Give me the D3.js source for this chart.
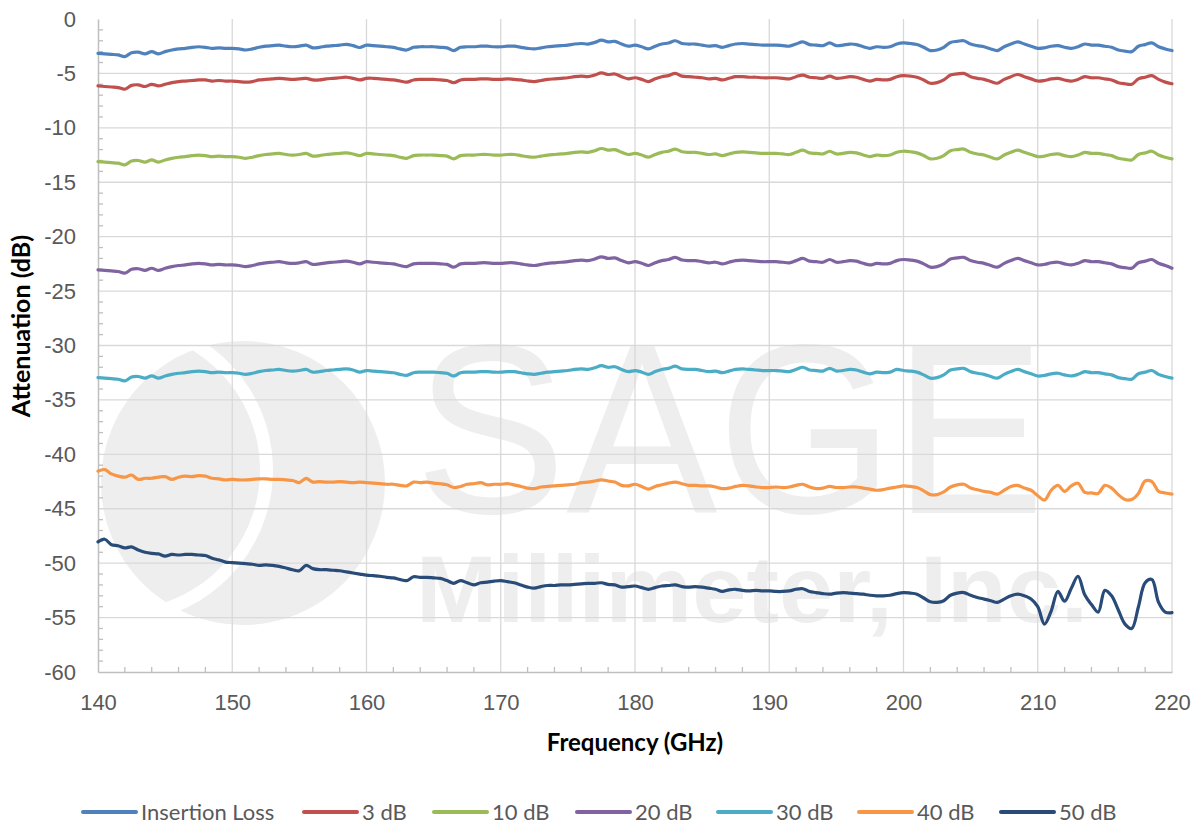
<!DOCTYPE html>
<html>
<head>
<meta charset="utf-8">
<script src="https://cdn.jsdelivr.net/npm/d3@7"></script>
<style>
  body { margin: 0; background: #fff; }
  svg { display: block; font-family: Lato, "Open Sans", sans-serif; }
</style>
</head>
<body>
<div id="chart"></div>
<script>
// frequency grid (GHz), 0.5 GHz step
const freq = d3.range(0, 161).map(i => 140 + i * 0.5);

const insertionLoss = [
  -3.15,-3.2,-3.25,-3.3,-3.45,-3.1,-3.05,-3.2,-3.0,-3.2,
  -3.0,-2.85,-2.75,-2.7,-2.6,-2.55,-2.6,-2.7,-2.65,-2.7,
  -2.7,-2.75,-2.85,-2.75,-2.6,-2.5,-2.45,-2.4,-2.5,-2.55,
  -2.5,-2.4,-2.65,-2.6,-2.5,-2.45,-2.4,-2.33,-2.45,-2.62,
  -2.4,-2.45,-2.5,-2.55,-2.6,-2.75,-2.85,-2.6,-2.55,-2.55,
  -2.55,-2.6,-2.65,-2.9,-2.6,-2.55,-2.55,-2.5,-2.5,-2.55,
  -2.55,-2.5,-2.5,-2.6,-2.7,-2.75,-2.65,-2.55,-2.5,-2.45,
  -2.4,-2.3,-2.25,-2.3,-2.15,-1.95,-2.1,-2.05,-2.3,-2.5,
  -2.4,-2.55,-2.75,-2.5,-2.3,-2.2,-2.0,-2.25,-2.3,-2.3,
  -2.4,-2.5,-2.45,-2.6,-2.45,-2.3,-2.25,-2.3,-2.35,-2.4,
  -2.4,-2.4,-2.45,-2.5,-2.3,-2.1,-2.35,-2.4,-2.45,-2.2,
  -2.45,-2.4,-2.3,-2.35,-2.55,-2.7,-2.55,-2.6,-2.55,-2.3,
  -2.2,-2.25,-2.35,-2.6,-2.9,-2.85,-2.6,-2.15,-2.05,-2.0,
  -2.3,-2.45,-2.55,-2.75,-2.9,-2.55,-2.3,-2.1,-2.3,-2.5,
  -2.7,-2.65,-2.5,-2.45,-2.6,-2.7,-2.55,-2.3,-2.4,-2.4,
  -2.5,-2.6,-2.85,-2.95,-3.0,-2.5,-2.35,-2.2,-2.55,-2.75,
  -2.9
];

const att3 = [
  -6.15,-6.2,-6.25,-6.3,-6.45,-6.1,-6.05,-6.2,-6.0,-6.15,
  -6.0,-5.85,-5.75,-5.7,-5.65,-5.6,-5.6,-5.7,-5.65,-5.7,
  -5.7,-5.75,-5.8,-5.75,-5.6,-5.55,-5.5,-5.45,-5.5,-5.55,
  -5.5,-5.45,-5.6,-5.6,-5.5,-5.45,-5.4,-5.35,-5.45,-5.6,
  -5.45,-5.45,-5.5,-5.55,-5.6,-5.7,-5.8,-5.6,-5.55,-5.55,
  -5.55,-5.6,-5.65,-5.85,-5.6,-5.55,-5.55,-5.5,-5.5,-5.55,
  -5.55,-5.5,-5.55,-5.6,-5.7,-5.75,-5.65,-5.55,-5.5,-5.45,
  -5.4,-5.3,-5.25,-5.3,-5.15,-4.95,-5.1,-5.05,-5.3,-5.5,
  -5.4,-5.55,-5.75,-5.5,-5.3,-5.2,-5.0,-5.25,-5.3,-5.35,
  -5.4,-5.5,-5.45,-5.6,-5.45,-5.3,-5.3,-5.35,-5.35,-5.4,
  -5.4,-5.4,-5.45,-5.5,-5.3,-5.15,-5.35,-5.4,-5.45,-5.25,
  -5.45,-5.4,-5.3,-5.35,-5.55,-5.7,-5.55,-5.6,-5.55,-5.3,
  -5.2,-5.25,-5.35,-5.6,-5.9,-5.85,-5.6,-5.15,-5.05,-5.0,
  -5.3,-5.45,-5.55,-5.75,-5.9,-5.55,-5.3,-5.1,-5.3,-5.5,
  -5.7,-5.65,-5.5,-5.45,-5.6,-5.7,-5.55,-5.3,-5.4,-5.4,
  -5.5,-5.6,-5.85,-5.95,-6.0,-5.5,-5.35,-5.2,-5.55,-5.8,
  -5.95
];

const att10 = [
  -13.1,-13.15,-13.2,-13.25,-13.4,-13.05,-13.0,-13.15,-12.95,-13.15,
  -12.95,-12.8,-12.7,-12.65,-12.55,-12.5,-12.55,-12.65,-12.6,-12.65,
  -12.65,-12.7,-12.8,-12.7,-12.55,-12.45,-12.4,-12.35,-12.45,-12.5,
  -12.45,-12.35,-12.6,-12.55,-12.45,-12.4,-12.35,-12.3,-12.4,-12.55,
  -12.35,-12.4,-12.45,-12.5,-12.55,-12.7,-12.8,-12.55,-12.5,-12.5,
  -12.5,-12.55,-12.6,-12.85,-12.55,-12.5,-12.5,-12.45,-12.45,-12.5,
  -12.5,-12.45,-12.45,-12.55,-12.65,-12.7,-12.6,-12.5,-12.45,-12.4,
  -12.35,-12.25,-12.2,-12.25,-12.1,-11.9,-12.05,-12.0,-12.25,-12.45,
  -12.35,-12.5,-12.7,-12.45,-12.25,-12.15,-11.95,-12.2,-12.25,-12.25,
  -12.35,-12.45,-12.4,-12.55,-12.4,-12.25,-12.2,-12.25,-12.3,-12.35,
  -12.35,-12.35,-12.4,-12.45,-12.25,-12.05,-12.3,-12.35,-12.4,-12.15,
  -12.4,-12.35,-12.25,-12.3,-12.5,-12.65,-12.5,-12.55,-12.5,-12.25,
  -12.15,-12.2,-12.3,-12.55,-12.85,-12.8,-12.55,-12.1,-12.0,-11.95,
  -12.25,-12.4,-12.5,-12.7,-12.85,-12.5,-12.25,-12.05,-12.25,-12.45,
  -12.65,-12.6,-12.45,-12.4,-12.55,-12.65,-12.5,-12.25,-12.35,-12.35,
  -12.45,-12.55,-12.8,-12.9,-12.95,-12.45,-12.3,-12.15,-12.5,-12.7,
  -12.85
];

const att20 = [
  -23.05,-23.1,-23.15,-23.2,-23.35,-23.0,-22.95,-23.1,-22.9,-23.1,
  -22.9,-22.75,-22.65,-22.6,-22.5,-22.45,-22.5,-22.6,-22.55,-22.6,
  -22.6,-22.65,-22.75,-22.65,-22.5,-22.4,-22.35,-22.3,-22.4,-22.45,
  -22.4,-22.3,-22.55,-22.5,-22.4,-22.35,-22.3,-22.25,-22.35,-22.5,
  -22.3,-22.35,-22.4,-22.45,-22.5,-22.65,-22.75,-22.5,-22.45,-22.45,
  -22.45,-22.5,-22.55,-22.8,-22.5,-22.45,-22.45,-22.4,-22.4,-22.45,
  -22.45,-22.4,-22.4,-22.5,-22.6,-22.65,-22.55,-22.45,-22.4,-22.35,
  -22.3,-22.2,-22.15,-22.2,-22.05,-21.85,-22.0,-21.95,-22.2,-22.4,
  -22.3,-22.45,-22.65,-22.4,-22.2,-22.1,-21.9,-22.15,-22.2,-22.2,
  -22.3,-22.4,-22.35,-22.5,-22.35,-22.2,-22.15,-22.2,-22.25,-22.3,
  -22.3,-22.3,-22.35,-22.4,-22.2,-22.0,-22.25,-22.3,-22.35,-22.1,
  -22.35,-22.3,-22.2,-22.25,-22.45,-22.6,-22.45,-22.5,-22.45,-22.2,
  -22.1,-22.15,-22.25,-22.5,-22.8,-22.75,-22.5,-22.05,-21.95,-21.9,
  -22.2,-22.35,-22.45,-22.65,-22.8,-22.45,-22.2,-22.0,-22.2,-22.4,
  -22.6,-22.55,-22.4,-22.35,-22.5,-22.6,-22.45,-22.2,-22.3,-22.3,
  -22.4,-22.5,-22.75,-22.85,-22.9,-22.4,-22.25,-22.1,-22.45,-22.65,
  -22.9
];

const att30 = [
  -32.95,-33.0,-33.05,-33.1,-33.25,-32.9,-32.85,-33.0,-32.8,-33.0,
  -32.8,-32.65,-32.55,-32.5,-32.4,-32.35,-32.4,-32.5,-32.45,-32.5,
  -32.5,-32.55,-32.65,-32.55,-32.4,-32.3,-32.25,-32.2,-32.3,-32.35,
  -32.3,-32.2,-32.45,-32.4,-32.3,-32.25,-32.2,-32.15,-32.25,-32.45,
  -32.3,-32.35,-32.4,-32.45,-32.5,-32.65,-32.75,-32.5,-32.45,-32.45,
  -32.45,-32.5,-32.55,-32.8,-32.5,-32.45,-32.45,-32.4,-32.4,-32.45,
  -32.45,-32.4,-32.4,-32.5,-32.6,-32.65,-32.55,-32.45,-32.4,-32.35,
  -32.3,-32.2,-32.15,-32.2,-32.05,-31.85,-32.0,-31.95,-32.2,-32.4,
  -32.3,-32.45,-32.65,-32.4,-32.2,-32.1,-31.9,-32.15,-32.2,-32.2,
  -32.3,-32.4,-32.35,-32.5,-32.35,-32.2,-32.15,-32.2,-32.25,-32.3,
  -32.3,-32.3,-32.35,-32.4,-32.2,-32.0,-32.25,-32.3,-32.35,-32.1,
  -32.35,-32.3,-32.2,-32.25,-32.45,-32.6,-32.45,-32.5,-32.45,-32.2,
  -32.3,-32.35,-32.45,-32.7,-33.0,-32.95,-32.7,-32.25,-32.15,-32.1,
  -32.4,-32.55,-32.65,-32.85,-33.0,-32.65,-32.4,-32.2,-32.4,-32.6,
  -32.8,-32.75,-32.6,-32.55,-32.7,-32.8,-32.65,-32.4,-32.5,-32.5,
  -32.6,-32.7,-32.95,-33.05,-33.1,-32.6,-32.45,-32.3,-32.65,-32.85,
  -33.0
];

const att40 = [
  -41.55,-41.4,-41.8,-42.0,-42.1,-41.9,-42.3,-42.2,-42.2,-42.1,
  -42.05,-42.3,-42.1,-42.0,-42.05,-41.95,-42.0,-42.2,-42.25,-42.35,
  -42.3,-42.35,-42.35,-42.3,-42.25,-42.25,-42.3,-42.3,-42.35,-42.4,
  -42.6,-42.2,-42.55,-42.5,-42.55,-42.55,-42.5,-42.55,-42.6,-42.55,
  -42.6,-42.65,-42.7,-42.75,-42.75,-42.85,-42.9,-42.55,-42.6,-42.55,
  -42.65,-42.7,-42.8,-43.05,-42.95,-42.75,-42.7,-42.6,-42.8,-42.75,
  -42.75,-42.7,-42.8,-42.95,-43.1,-43.15,-43.0,-42.95,-42.9,-42.85,
  -42.8,-42.75,-42.6,-42.55,-42.45,-42.35,-42.45,-42.55,-42.85,-42.9,
  -42.75,-42.95,-43.2,-42.95,-42.8,-42.65,-42.55,-42.7,-42.85,-42.85,
  -42.9,-42.9,-43.0,-43.15,-43.1,-42.95,-42.85,-42.9,-43.0,-43.05,
  -43.05,-43.0,-43.05,-43.0,-42.85,-42.75,-43.0,-43.15,-43.1,-42.95,
  -43.05,-43.05,-43.0,-43.0,-43.1,-43.2,-43.3,-43.25,-43.1,-43.0,
  -42.9,-42.95,-43.05,-43.35,-43.7,-43.7,-43.45,-43.0,-42.8,-42.75,
  -43.1,-43.25,-43.4,-43.5,-43.65,-43.3,-42.95,-42.85,-43.1,-43.3,
  -43.8,-44.2,-43.3,-42.85,-43.4,-42.9,-42.65,-43.5,-43.55,-43.6,
  -42.85,-43.1,-43.7,-44.15,-44.15,-43.6,-42.45,-42.5,-43.4,-43.55,
  -43.65
];

const att50 = [
  -48.05,-47.8,-48.3,-48.4,-48.6,-48.5,-48.8,-49.0,-49.1,-49.15,
  -49.35,-49.2,-49.25,-49.2,-49.2,-49.25,-49.3,-49.55,-49.7,-49.9,
  -49.95,-50.0,-50.05,-50.1,-50.2,-50.15,-50.2,-50.3,-50.45,-50.6,
  -50.7,-50.2,-50.5,-50.6,-50.6,-50.65,-50.7,-50.8,-50.9,-51.0,
  -51.1,-51.15,-51.2,-51.3,-51.35,-51.5,-51.6,-51.25,-51.3,-51.3,
  -51.35,-51.4,-51.6,-51.85,-51.6,-51.8,-52.0,-51.8,-51.75,-51.65,
  -51.6,-51.7,-51.8,-52.0,-52.2,-52.3,-52.15,-52.05,-52.05,-52.0,
  -52.0,-51.95,-51.9,-51.85,-51.85,-51.8,-51.95,-52.0,-52.2,-52.15,
  -52.1,-52.25,-52.4,-52.25,-52.1,-52.05,-52.0,-52.15,-52.2,-52.15,
  -52.2,-52.3,-52.4,-52.6,-52.45,-52.4,-52.5,-52.55,-52.5,-52.55,
  -52.55,-52.6,-52.6,-52.55,-52.4,-52.35,-52.6,-52.7,-52.8,-52.85,
  -52.75,-52.7,-52.75,-52.8,-52.85,-52.95,-53.0,-53.0,-52.95,-52.8,
  -52.7,-52.75,-52.85,-53.2,-53.55,-53.6,-53.45,-52.95,-52.75,-52.7,
  -52.95,-53.15,-53.3,-53.45,-53.6,-53.3,-53.0,-52.85,-53.0,-53.3,
  -54.0,-55.6,-54.4,-52.6,-53.5,-52.3,-51.2,-52.9,-53.8,-54.5,
  -52.5,-53.0,-54.3,-55.6,-56.0,-54.0,-51.8,-51.5,-53.6,-54.5,
  -54.55
];

const seriesNames = ["Insertion Loss", "3 dB", "10 dB", "20 dB", "30 dB", "40 dB", "50 dB"];
const seriesColors = ["#4f81bd", "#c0504d", "#9bbb59", "#8064a2", "#4bacc6", "#f79646", "#284b78"];
const seriesValues = [insertionLoss, att3, att10, att20, att30, att40, att50];

const xTicks = [140, 150, 160, 170, 180, 190, 200, 210, 220];
const yTicks = [0, -5, -10, -15, -20, -25, -30, -35, -40, -45, -50, -55, -60];

const W = 1197, H = 823;
const margin = {left: 98, top: 19, right: 25, bottom: 151};
const plotW = W - margin.left - margin.right;
const plotH = H - margin.top - margin.bottom;

const svg = d3.select("#chart").append("svg")
    .attr("width", W)
    .attr("height", H);

const x = d3.scaleLinear().domain([140, 220]).range([margin.left, margin.left + plotW]);
const y = d3.scaleLinear().domain([-60, 0]).range([margin.top + plotH, margin.top]);

// watermark (company logo, very light grey)
const wm = svg.append("g").attr("fill", "#eeeeee");
wm.append("circle").attr("cx", 243).attr("cy", 483).attr("r", 142);
wm.append("path")
    .attr("d", d3.arc()({innerRadius: 140, outerRadius: 153, startAngle: 0.15 * Math.PI, endAngle: 1.05 * Math.PI}))
    .attr("transform", "translate(120,470)")
    .attr("fill", "#fff");
wm.append("text")
    .attr("x", 415).attr("y", 513)
    .attr("textLength", 630).attr("lengthAdjust", "spacingAndGlyphs")
    .style("font-family", "'Liberation Sans', Arial, sans-serif")
    .style("font-size", "242px")
    .text("SAGE");
wm.append("text")
    .attr("x", 416).attr("y", 622)
    .attr("textLength", 672).attr("lengthAdjust", "spacingAndGlyphs")
    .style("font-family", "'Liberation Sans', Arial, sans-serif")
    .style("font-size", "94px")
    .style("font-weight", "bold")
    .text("Millimeter, Inc.");

// grid
const grid = svg.append("g").attr("stroke", "#d9d9d9").attr("stroke-width", 1.3);
grid.selectAll("line.h")
    .data(yTicks.filter(d => d !== 0 && d !== -60))
    .enter().append("line")
    .attr("x1", margin.left).attr("x2", margin.left + plotW)
    .attr("y1", d => y(d)).attr("y2", d => y(d));
grid.selectAll("line.v")
    .data(xTicks.filter(d => d !== 140))
    .enter().append("line")
    .attr("y1", margin.top).attr("y2", margin.top + plotH)
    .attr("x1", d => x(d)).attr("x2", d => x(d));

// axes
const yAxis = d3.axisLeft(y).tickValues(yTicks).tickSize(0).tickPadding(22).tickFormat(d => String(d));
const xAxis = d3.axisBottom(x).tickValues(xTicks).tickSize(0).tickPadding(22).tickFormat(d => String(d));

const gy = svg.append("g").attr("transform", "translate(" + margin.left + ",0)").call(yAxis);
const gx = svg.append("g").attr("transform", "translate(0," + (margin.top + plotH) + ")").call(xAxis);
[gx, gy].forEach(function(g){
    g.select(".domain").attr("stroke", "#bfbfbf").attr("stroke-width", 1.5);
    g.selectAll("text").attr("fill", "#595959").style("font-size", "22px");
});

// minor ticks (inside)
svg.append("g").selectAll("line")
    .data(d3.range(-59, 0, 1).filter(d => d % 5 !== 0))
    .enter().append("line")
    .attr("x1", margin.left).attr("x2", margin.left + 5)
    .attr("y1", d => y(d)).attr("y2", d => y(d))
    .attr("stroke", "#bfbfbf").attr("stroke-width", 1.3);
svg.append("g").selectAll("line")
    .data(d3.range(142, 220, 2).filter(d => d % 10 !== 0))
    .enter().append("line")
    .attr("y1", margin.top + plotH).attr("y2", margin.top + plotH - 5)
    .attr("x1", d => x(d)).attr("x2", d => x(d))
    .attr("stroke", "#bfbfbf").attr("stroke-width", 1.3);

// series
const line = d3.line()
    .x((d, i) => x(freq[i]))
    .y(d => y(d))
    .curve(d3.curveCatmullRom.alpha(0.5));

svg.append("g").selectAll("path")
    .data(seriesValues)
    .enter().append("path")
    .attr("d", line)
    .attr("fill", "none")
    .attr("stroke", (d, i) => seriesColors[i])
    .attr("stroke-width", 3.2)
    .attr("stroke-linejoin", "round")
    .attr("stroke-linecap", "round");

// axis titles
svg.append("text")
    .attr("transform", "translate(30,326) rotate(-90)")
    .attr("text-anchor", "middle")
    .attr("fill", "#000")
    .style("font-size", "25px").style("font-weight", "bold")
    .text("Attenuation (dB)");
svg.append("text")
    .attr("x", 635).attr("y", 751)
    .attr("text-anchor", "middle")
    .attr("fill", "#000")
    .style("font-size", "24px").style("font-weight", "bold")
    .text("Frequency (GHz)");

// legend
const legendX = [83, 304, 434, 577, 718, 859, 1001];
const legend = svg.append("g").selectAll("g")
    .data(seriesNames)
    .enter().append("g")
    .attr("transform", (d, i) => "translate(" + legendX[i] + ",812)");
legend.append("line")
    .attr("x1", 0).attr("x2", 53)
    .attr("stroke", (d, i) => seriesColors[i])
    .attr("stroke-width", 4)
    .attr("stroke-linecap", "round");
legend.append("text")
    .attr("x", 58).attr("dy", "0.35em")
    .attr("fill", "#595959")
    .style("font-size", "22px")
    .text(d => d);
</script>
</body>
</html>
